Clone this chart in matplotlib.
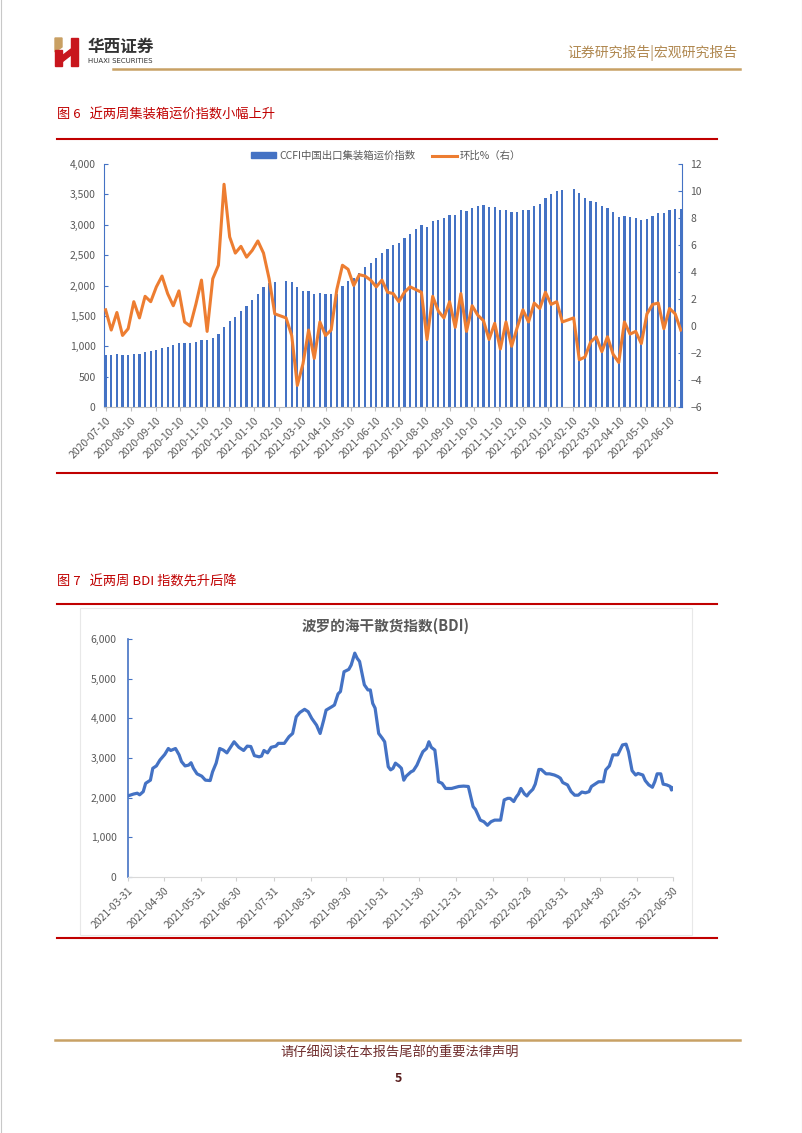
import numpy as np
import pandas as pd
import matplotlib

matplotlib.use("Agg")
import matplotlib.pyplot as plt
from matplotlib.patches import Patch, Polygon, Rectangle
from matplotlib.lines import Line2D
from matplotlib.ticker import FuncFormatter

plt.rcParams["font.family"] = ["Noto Sans CJK SC", "DejaVu Sans"]

# ============================================================
# 数据：图6 CCFI（周度，春节周无数据）
# ============================================================
ccfi_start, ccfi_end = "2020-07-10", "2022-06-24"
ccfi_missing = ["2021-02-12", "2022-02-04"]

ccfi_index = [
    864, 864, 869, 858, 858, 880, 880, 902, 919, 946,
    979, 990, 1018, 1056, 1056, 1056, 1073, 1111, 1111, 1144,
    1199, 1320, 1408, 1485, 1574, 1661, 1761, 1860, 1970, 2036,
    2058,
    2074, 2063, 1970, 1909, 1909, 1860, 1871, 1860, 1860, 1854,
    1997, 2074, 2129, 2212, 2300, 2377, 2459, 2531, 2597, 2669,
    2701,
    2778, 2855, 2927, 3004, 2971, 3054, 3081, 3103, 3158, 3158,
    3241, 3224, 3274, 3301, 3318, 3285, 3290, 3235, 3241, 3202,
    3202, 3235, 3246, 3301, 3345, 3439, 3505, 3560, 3571,
    3593, 3516, 3433, 3395, 3378, 3301, 3274, 3213, 3125, 3136,
    3120, 3109, 3070, 3098, 3147, 3191, 3191, 3246, 3263, 3257,
]
ccfi_wow = [
    1.2, -0.3, 1.0, -0.7, -0.2, 1.8, 0.6, 2.2, 1.8, 2.9,
    3.7, 2.4, 1.5, 2.6, 0.3, 0.0, 1.6, 3.4, -0.4, 3.5,
    4.5, 10.5, 6.6, 5.4, 5.9, 5.1, 5.6, 6.3, 5.4, 3.5,
    0.9,
    0.6, -0.7, -4.4, -2.8, -0.3, -2.4, 0.3, -0.7, -0.3, 2.7,
    4.5, 4.2, 3.0, 3.8, 3.7, 3.4, 2.9, 3.4, 2.5, 2.4,
    1.8,
    2.5, 2.9, 2.7, 2.5, -1.0, 2.2, 1.1, 0.6, 1.8, -0.1,
    2.4, -0.4, 1.5, 0.8, 0.4, -1.0, 0.2, -1.7, 0.3, -1.5,
    -0.1, 1.2, 0.3, 1.7, 1.3, 2.5, 1.6, 1.8, 0.3,
    0.6, -2.5, -2.3, -1.2, -0.8, -1.9, -0.8, -2.1, -2.7, 0.3,
    -0.6, -0.4, -1.3, 0.9, 1.6, 1.7, -0.2, 1.3, 0.9, -0.3,
]
ccfi_tick_start, ccfi_tick_end = "2020-07-10", "2022-06-10"

# ============================================================
# 数据：图7 BDI（日度，按 2021-03-31 起的天数记）
# ============================================================
bdi_base = "2021-03-31"
bdi_day = [
    0, 5, 8, 10, 13, 15, 19, 21, 24, 27,
    31, 34, 36, 40, 43, 45, 48, 51, 53, 55,
    58, 62, 65, 69, 71, 74, 77, 80, 83, 86,
    89, 93, 97, 100, 103, 106, 110, 112, 114, 117,
    120, 124, 126, 131, 135, 138, 141, 144, 148, 151,
    154, 158, 161, 164, 166, 171, 173, 176, 178, 181,
    185, 187, 190, 192, 194, 198, 201, 203, 205, 207,
    210, 213, 215, 218, 220, 222, 224, 227, 229, 231,
    233, 237, 239, 242, 245, 247, 250, 252, 254, 257,
    259, 260, 263, 266, 271, 277, 281, 285, 287, 289,
    291, 295, 298, 301, 304, 307, 312, 315, 318, 320,
    323, 325, 327, 329, 332, 334, 336, 339, 341, 344,
    346, 350, 353, 357, 360, 362, 364, 368, 371, 374,
    377, 380, 383, 386, 388, 391, 394, 398, 400, 403,
    406, 410, 414, 417, 419, 422, 425, 427, 431, 433,
    436, 439, 441, 443, 446, 448, 451, 454, 455, 456,
]
bdi_value = [
    2040, 2090, 2110, 2070, 2150, 2360, 2440, 2740, 2800, 2950,
    3090, 3240, 3190, 3240, 3080, 2910, 2800, 2820, 2880, 2740,
    2600, 2540, 2440, 2430, 2650, 2870, 3240, 3200, 3130, 3270,
    3410, 3270, 3190, 3300, 3290, 3060, 3030, 3050, 3190, 3130,
    3270, 3300, 3370, 3370, 3540, 3620, 4040, 4150, 4230, 4170,
    4000, 3830, 3620, 3960, 4210, 4300, 4340, 4620, 4680, 5180,
    5240, 5350, 5650, 5520, 5440, 4850, 4720, 4720, 4380, 4260,
    3620, 3500, 3410, 2780, 2700, 2740, 2870, 2800, 2740, 2440,
    2540, 2650, 2680, 2820, 3030, 3160, 3240, 3410, 3270, 3200,
    2700, 2400, 2360, 2230, 2230, 2280, 2290, 2280, 2020, 1770,
    1700, 1430, 1390, 1300, 1390, 1430, 1430, 1940, 1980, 1980,
    1900, 2010, 2090, 2230, 2090, 2040, 2120, 2210, 2340, 2710,
    2710, 2600, 2600, 2570, 2530, 2490, 2380, 2320, 2150, 2060,
    2060, 2140, 2120, 2150, 2280, 2340, 2400, 2400, 2700, 2800,
    3080, 3080, 3330, 3350, 3160, 2680, 2570, 2610, 2570, 2430,
    2320, 2260, 2400, 2600, 2600, 2340, 2320, 2280, 2190, 2240,
]
bdi_ticks = [
    "2021-03-31", "2021-04-30", "2021-05-31", "2021-06-30", "2021-07-31",
    "2021-08-31", "2021-09-30", "2021-10-31", "2021-11-30", "2021-12-31",
    "2022-01-31", "2022-02-28", "2022-03-31", "2022-04-30", "2022-05-31",
    "2022-06-30",
]

# ============================================================
# 样式
# ============================================================
W, H = 802, 1133
RED = "#C00000"
GOLD = "#C8A165"
BLUE = "#4472C4"
ORANGE = "#ED7D31"
GRAY = "#595959"

fig = plt.figure(figsize=(W / 100, H / 100), dpi=100)

# 页面层：像素坐标
page = fig.add_axes([0, 0, 1, 1])
page.set_xlim(0, W)
page.set_ylim(H, 0)
page.axis("off")

page.plot([0.5, 0.5], [0, H], color="#C8C8C8", lw=0.8)
page.plot([W - 0.5, W - 0.5], [0, H], color="#C8C8C8", lw=0.8)

# 标志
page.add_patch(Polygon([(55, 38), (62, 38), (62, 47), (55, 52)], color="#C9A063"))
page.add_patch(Rectangle((55, 50), 7, 16, color="#C8161D"))
page.add_patch(Rectangle((71, 38), 7, 28, color="#C8161D"))
page.add_patch(Polygon([(62, 56), (71, 49), (71, 55), (62, 62)], color="#C8161D"))
page.text(88, 47, "华西证券", fontsize=12, fontweight="bold", color="#333333", va="center")
page.text(88, 61, "HUAXI SECURITIES", fontsize=5, color="#333333", va="center",
          family="DejaVu Sans")
page.text(737, 53, "证券研究报告|宏观研究报告", fontsize=10, color="#B08850",
          ha="right", va="center")
page.plot([113, 740], [69, 69], color=GOLD, lw=1.8)

# 图题与分隔线
page.text(57, 115, "图 6   近两周集装箱运价指数小幅上升", fontsize=9.5, color=RED, va="center")
page.text(57, 582, "图 7   近两周 BDI 指数先升后降", fontsize=9.5, color=RED, va="center")
for yy in (139, 473, 604, 938):
    page.plot([57, 717], [yy, yy], color=RED, lw=1.5)

page.add_patch(Rectangle((80, 608), 612, 327, fill=False, ec="#E8E8E8", lw=0.8))
page.text(386, 626, "波罗的海干散货指数(BDI)", fontsize=10.5, fontweight="bold",
          color=GRAY, ha="center", va="center")

# 页脚
page.plot([55, 740], [1040, 1040], color=GOLD, lw=1.8)
page.text(400, 1053, "请仔细阅读在本报告尾部的重要法律声明", fontsize=9.5,
          color="#6E2C2C", ha="center", va="center")
page.text(398, 1078, "5", fontsize=9, fontweight="bold", color="#5A1E1E",
          ha="center", va="center")


def box(x0, y0, x1, y1):
    return [x0 / W, 1 - y1 / H, (x1 - x0) / W, (y1 - y0) / H]


# ============================================================
# 图6：柱 + 折线（右轴）
# ============================================================
weeks = pd.date_range(ccfi_start, ccfi_end, freq="7D")
weeks = weeks.drop(pd.to_datetime(ccfi_missing))

ax = fig.add_axes(box(104, 164, 682, 407))
ax.bar(weeks, ccfi_index, width=2.8, color=BLUE, zorder=2)
ax.set_ylim(0, 4000)
ax.set_yticks(np.arange(0, 4001, 500))
ax.yaxis.set_major_formatter(FuncFormatter(lambda v, p: f"{v:,.0f}"))
ax.set_xlim(pd.Timestamp(ccfi_start) - pd.Timedelta(days=2),
            pd.Timestamp(ccfi_end) + pd.Timedelta(days=1.5))
month_ticks = pd.date_range(ccfi_tick_start, ccfi_tick_end, freq=pd.DateOffset(months=1))
ax.set_xticks(month_ticks)
ax.set_xticklabels([d.strftime("%Y-%m-%d") for d in month_ticks], rotation=45,
                   ha="right", rotation_mode="anchor", fontsize=7.5, color=GRAY)
ax.tick_params(axis="y", direction="in", length=3, color=BLUE, labelsize=7.5,
               labelcolor=GRAY, pad=6)
ax.tick_params(axis="x", direction="out", length=3, color="#BFBFBF", pad=3)
for s in ("top", "right"):
    ax.spines[s].set_visible(False)
ax.spines["left"].set_color(BLUE)
ax.spines["bottom"].set_color("#BFBFBF")

ax2 = ax.twinx()
ax2.plot(weeks, ccfi_wow, color=ORANGE, lw=2.2, zorder=3)
ax2.set_ylim(-6, 12)
ax2.set_yticks(np.arange(-6, 13, 2))
ax2.tick_params(axis="y", direction="in", length=3, color=BLUE, labelsize=7.5,
                labelcolor=GRAY, pad=6)
for s in ("top", "left", "bottom"):
    ax2.spines[s].set_visible(False)
ax2.spines["right"].set_color(BLUE)

handles = [Patch(color=BLUE, label="CCFI中国出口集装箱运价指数"),
           Line2D([], [], color=ORANGE, lw=2.2, label="环比%（右）")]
fig.legend(handles=handles, loc="center", ncol=2, frameon=False, fontsize=7.5,
           labelcolor=GRAY, bbox_to_anchor=(386 / W, 1 - 156 / H),
           handlelength=2.4, handleheight=0.5, columnspacing=1.6, handletextpad=0.3)

# ============================================================
# 图7：BDI
# ============================================================
bdi_dates = pd.Timestamp(bdi_base) + pd.to_timedelta(bdi_day, unit="D")

bx = fig.add_axes(box(127.7, 639.3, 672.7, 876.7))
bx.plot(bdi_dates, bdi_value, color=BLUE, lw=2.3, solid_joinstyle="round")
bx.set_ylim(0, 6000)
bx.set_yticks(np.arange(0, 6001, 1000))
bx.yaxis.set_major_formatter(FuncFormatter(lambda v, p: f"{v:,.0f}"))
bx.set_xlim(pd.Timestamp(bdi_ticks[0]), pd.Timestamp(bdi_ticks[-1]))
bx.set_xticks(pd.to_datetime(bdi_ticks))
bx.set_xticklabels(bdi_ticks, rotation=45, ha="right", rotation_mode="anchor",
                   fontsize=7.5, color=GRAY)
bx.tick_params(axis="y", direction="in", length=3, color=BLUE, labelsize=7.5,
               labelcolor=GRAY, pad=8)
bx.tick_params(axis="x", direction="out", length=3, color="#D0D0D0", pad=3)
for s in ("top", "right"):
    bx.spines[s].set_visible(False)
bx.spines["left"].set_color(BLUE)
bx.spines["left"].set_linewidth(1.2)
bx.spines["bottom"].set_color("#D9D9D9")

fig.savefig("out.png", dpi=100)
